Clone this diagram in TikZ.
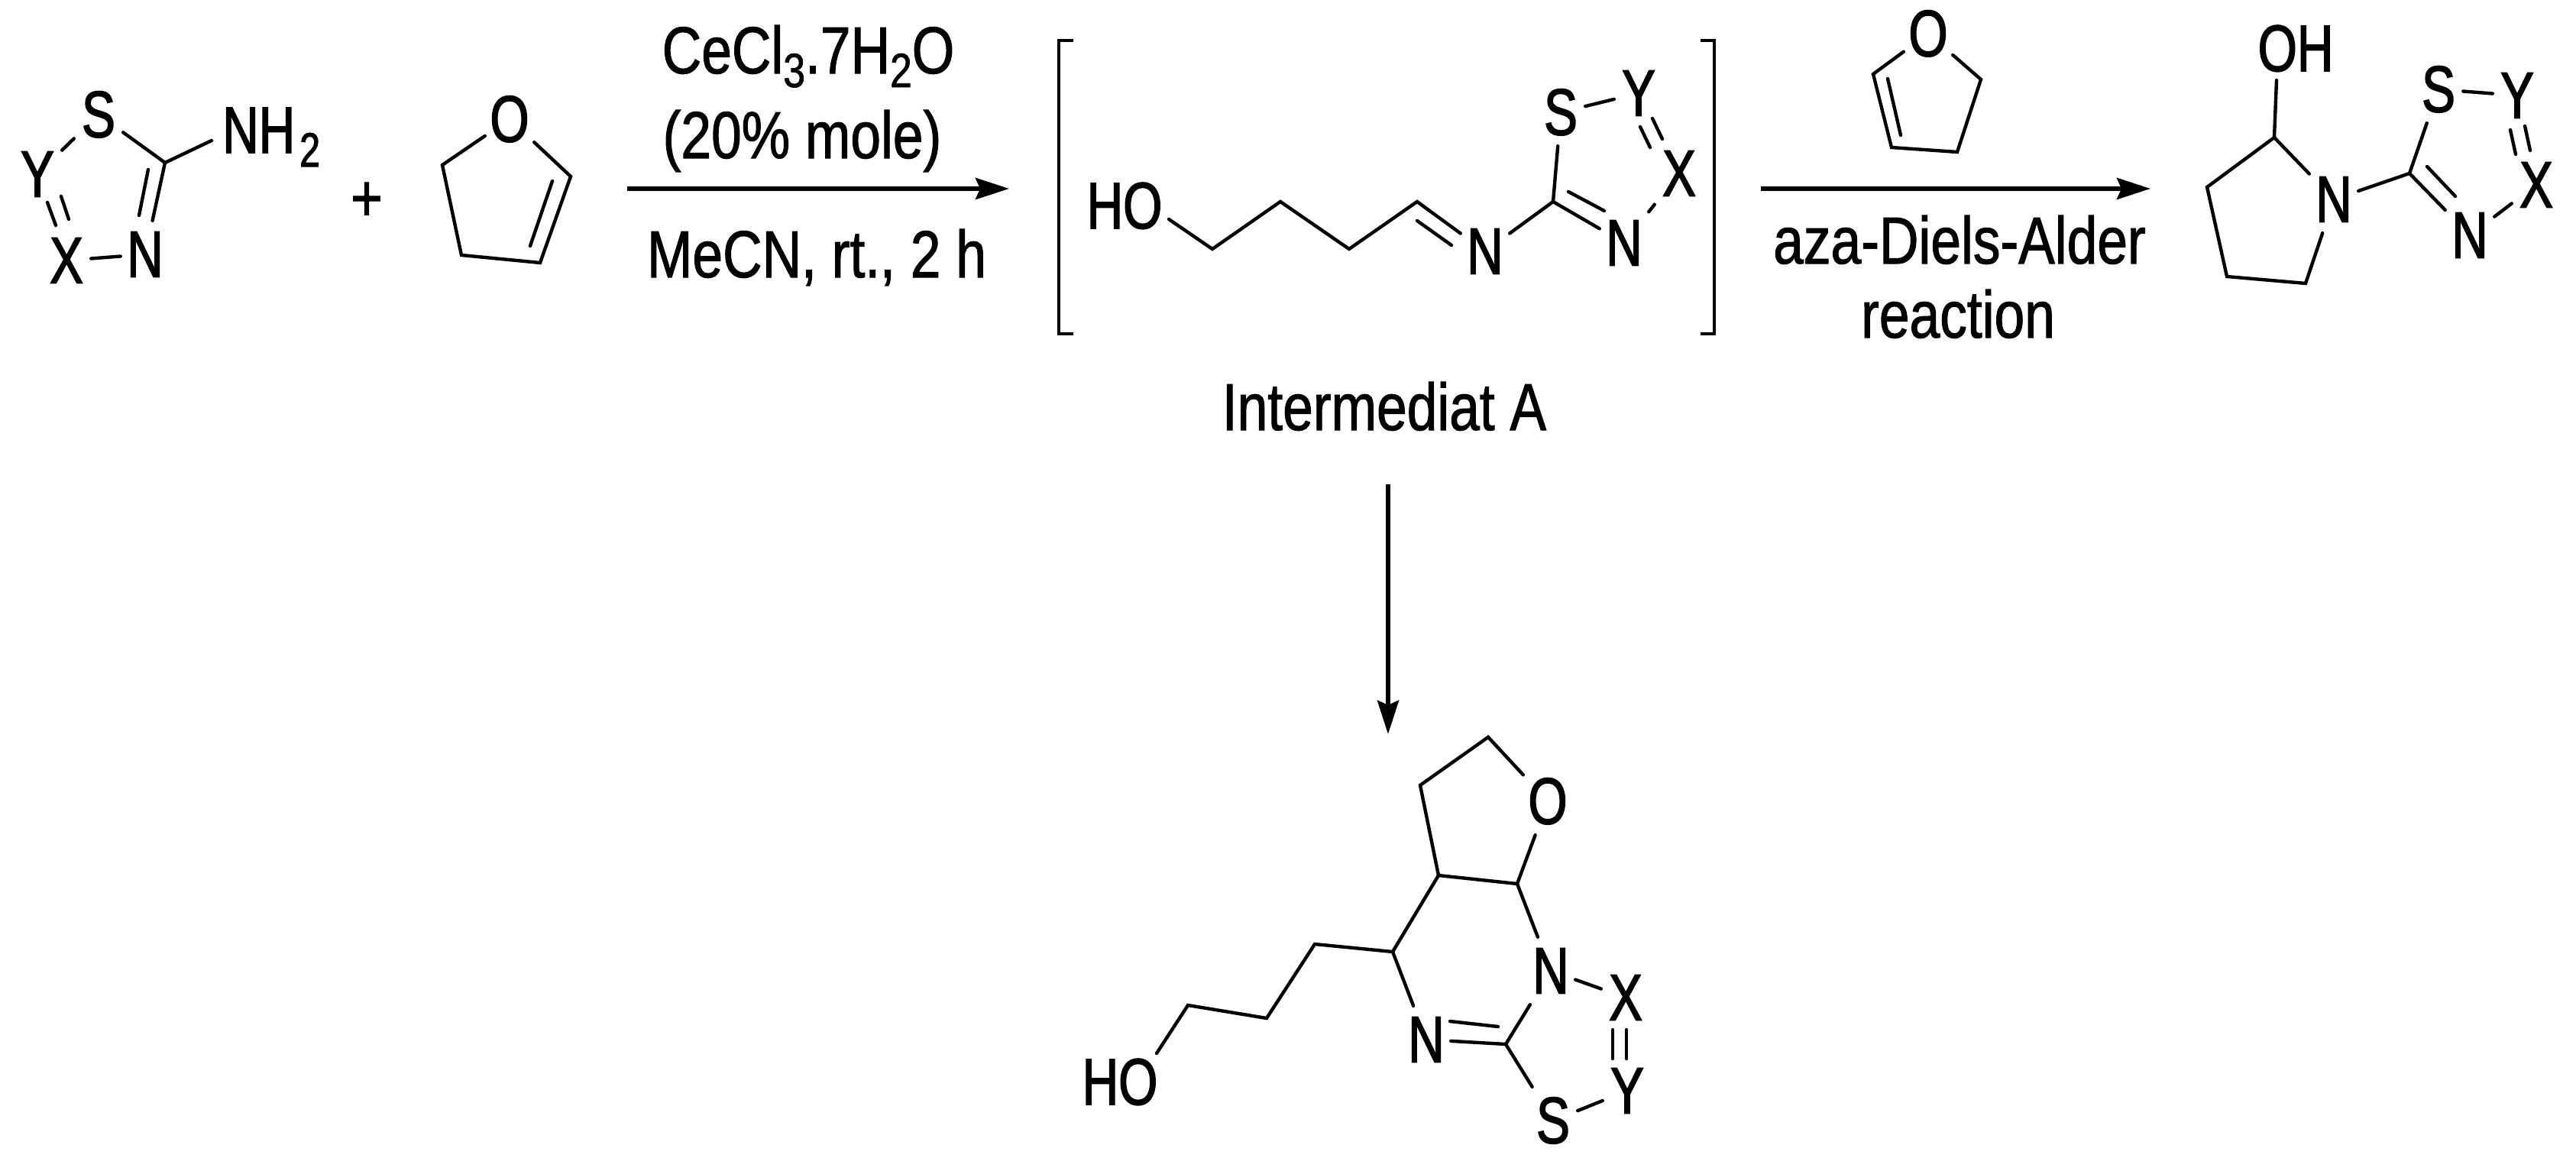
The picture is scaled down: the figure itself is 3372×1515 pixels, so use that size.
\documentclass[tikz,border=0pt]{standalone}
\usepackage{fontspec}
\setmainfont[FakeStretch=0.82,FakeBold=1.2]{Liberation Sans}
\newfontfamily\labfont[FakeStretch=0.765,FakeBold=1.8]{Liberation Sans}
\usetikzlibrary{arrows.meta}
\newcommand{\atm}[1]{\makebox[0pt]{\raisebox{-29.5pt}[0pt][0pt]{#1}}}
\newcommand{\lowidx}[1]{\raisebox{-18pt}{\fontsize{63}{63}\selectfont #1}}
\tikzset{
  bond/.style={line width=4.4pt,line cap=round,line join=miter,black},
  arrowline/.style={line width=5.5pt,black,-{Stealth[length=44pt,width=28pt,inset=6pt]}},
  atom/.style={rectangle,inner sep=0pt,minimum width=64pt,minimum height=88pt,font=\labfont\fontsize{86}{90}\selectfont},
  chemlabel/.style={inner sep=0pt,font=\labfont\fontsize{86}{90}\selectfont},
  caption/.style={inner sep=0pt,anchor=base,font=\fontsize{87}{90}\selectfont},
  bracket/.style={line width=4.4pt,black,line join=miter}
}
\begin{document}
\begin{tikzpicture}[x=1pt,y=-1pt]
\useasboundingbox (0,0) rectangle (3372,1515);
% --- reactant thiadiazole
\node[atom] (aS) at (129,150) {\atm{S}};
\node[atom] (aY) at (49,228) {\atm{Y}};
\node[atom] (aX) at (87,341) {\atm{X}};
\node[atom] (aN) at (190,333) {\atm{N}};
\node[chemlabel,anchor=base west] (aNH) at (291,200) {NH\kern6pt\lowidx{2}};
\path (216,213) coordinate (aC) (277,184) coordinate (aNHe)
 (194,222) coordinate (ai1) (182,282) coordinate (ai2)
 (62,265) coordinate (ad1) (73,295) coordinate (ad2) (80,257) coordinate (ad3) (90,287) coordinate (ad4);
\draw[bond] (aS) -- (aC);
\draw[bond] (aC) -- (aNHe);
\draw[bond] (aC) -- (aN);
\draw[bond] (ai1) -- (ai2);
\draw[bond] (aX) -- (aN);
\draw[bond] (aY) -- (aS);
\draw[bond] (ad1) -- (ad2);
\draw[bond] (ad3) -- (ad4);
\node[caption] (plus) at (480,289) {+};
% --- dihydrofuran 1
\node[atom] (bO) at (667,156) {\atm{O}};
\path (579,216) coordinate (b1) (604,334) coordinate (b2) (707,344) coordinate (b3) (747,231) coordinate (b4)
 (723,237) coordinate (bi1) (694,322) coordinate (bi2);
\draw[bond] (bO) -- (b1) -- (b2) -- (b3) -- (b4) -- (bO);
\draw[bond] (bi1) -- (bi2);
% --- arrow 1
\coordinate (r1s) at (821,247); \coordinate (r1e) at (1321,247);
\draw[arrowline] (r1s) -- (r1e);
\node[caption] (t1) at (1058,96) {CeCl\lowidx{3}.7H\lowidx{2}O};
\node[caption] (t2) at (1050,207) {(20\% mole)};
\node[caption] (t3) at (1069,363) {MeCN, rt., 2 h};
% --- brackets
\draw[bracket] (1405,53) -- (1386,53) -- (1386,437) -- (1405,437);
\draw[bracket] (2226,53) -- (2244,53) -- (2244,437) -- (2226,437);
% --- intermediate A
\node[chemlabel,anchor=base] (cHO) at (1472,299) {HO};
\node[atom] (cN) at (1944,329) {\atm{N}};
\node[atom] (cS) at (2043,147) {\atm{S}};
\node[atom] (cY) at (2145,122) {\atm{Y}};
\node[atom] (cX) at (2198,227) {\atm{X}};
\node[atom] (cNb) at (2126,318) {\atm{N}};
\path (1530,287) coordinate (c0) (1587,326) coordinate (c1) (1676,264) coordinate (c2) (1766,326) coordinate (c3) (1855,264) coordinate (c4)
 (1855,289) coordinate (ci1) (1900,321) coordinate (ci2)
 (2033,264) coordinate (c5) (2053,251) coordinate (ci3) (2100,276) coordinate (ci4)
 (2147,166) coordinate (cd1) (2160,193) coordinate (cd2) (2163,155) coordinate (cd3) (2176,182) coordinate (cd4);
\draw[bond] (c0) -- (c1) -- (c2) -- (c3) -- (c4) -- (cN);
\draw[bond] (ci1) -- (ci2);
\draw[bond] (cN) -- (c5);
\draw[bond] (c5) -- (cS);
\draw[bond] (cS) -- (cY);
\draw[bond] (cd1) -- (cd2);
\draw[bond] (cd3) -- (cd4);
\draw[bond] (cX) -- (cNb);
\draw[bond] (c5) -- (cNb);
\draw[bond] (ci3) -- (ci4);
\node[caption] (t4) at (1812,563) {Intermediat A};
% --- arrow 2 and its furan
\node[atom] (dO) at (2524,44) {\atm{O}};
\path (2452,97) coordinate (d1) (2476,193) coordinate (d2) (2562,199) coordinate (d3) (2593,104) coordinate (d4)
 (2471,103) coordinate (di1) (2488,177) coordinate (di2);
\draw[bond] (dO) -- (d1) -- (d2) -- (d3) -- (d4) -- (dO);
\draw[bond] (di1) -- (di2);
\coordinate (r2s) at (2305,247); \coordinate (r2e) at (2815,247);
\draw[arrowline] (r2s) -- (r2e);
\node[caption] (t5) at (2565,345) {aza-Diels-Alder};
\node[caption] (t6) at (2563,442) {reaction};
% --- product right
\node[chemlabel,anchor=base] (eOH) at (3005,93) {OH};
\node[atom] (eN) at (3055,261) {\atm{N}};
\node[atom] (eS) at (3192,117) {\atm{S}};
\node[atom] (eY) at (3295,125) {\atm{Y}};
\node[atom] (eX) at (3320,242) {\atm{X}};
\node[atom] (eNb) at (3233,308) {\atm{N}};
\path (2980,105) coordinate (eOe) (2977,180) coordinate (e1) (2889,245) coordinate (e2) (2915,362) coordinate (e3) (3018,371) coordinate (e4)
 (3154,227) coordinate (e5) (3177,218) coordinate (ei1) (3214,257) coordinate (ei2)
 (3286,170) coordinate (ed1) (3293,202) coordinate (ed2) (3305,165) coordinate (ed3) (3312,197) coordinate (ed4);
\draw[bond] (eOe) -- (e1);
\draw[bond] (eN) -- (e1) -- (e2) -- (e3) -- (e4) -- (eN);
\draw[bond] (eN) -- (e5);
\draw[bond] (e5) -- (eS);
\draw[bond] (eS) -- (eY);
\draw[bond] (ed1) -- (ed2);
\draw[bond] (ed3) -- (ed4);
\draw[bond] (eX) -- (eNb);
\draw[bond] (e5) -- (eNb);
\draw[bond] (ei1) -- (ei2);
% --- arrow 3
\coordinate (r3s) at (1817,634); \coordinate (r3e) at (1817,961);
\draw[arrowline] (r3s) -- (r3e);
% --- product bottom
\node[chemlabel,anchor=base] (fHO) at (1466,1446) {HO};
\node[atom] (fO) at (2026,1049) {\atm{O}};
\node[atom] (fN) at (2030,1271) {\atm{N}};
\node[atom] (fNb) at (1867,1361) {\atm{N}};
\node[atom] (fS) at (2033,1467) {\atm{S}};
\node[atom] (fY) at (2130,1428) {\atm{Y}};
\node[atom] (fX) at (2128,1306) {\atm{X}};
\path (1948,965) coordinate (f1) (1859,1028) coordinate (f2) (1883,1146) coordinate (f3) (1986,1157) coordinate (f4)
 (1823,1246) coordinate (f5) (1721,1236) coordinate (f6) (1658,1333) coordinate (f7) (1555,1316) coordinate (f8) (1514,1379) coordinate (f9)
 (1971,1367) coordinate (f10) (1898,1337) coordinate (fi1) (1961,1344) coordinate (fi2)
 (2111,1348) coordinate (fd1) (2111,1386) coordinate (fd2) (2129,1348) coordinate (fd3) (2129,1386) coordinate (fd4);
\draw[bond] (fO) -- (f1) -- (f2) -- (f3) -- (f4) -- (fO);
\draw[bond] (f4) -- (fN);
\draw[bond] (f3) -- (f5) -- (f6) -- (f7) -- (f8) -- (f9);
\draw[bond] (f5) -- (fNb);
\draw[bond] (fNb) -- (f10);
\draw[bond] (fi1) -- (fi2);
\draw[bond] (f10) -- (fN);
\draw[bond] (f10) -- (fS);
\draw[bond] (fS) -- (fY);
\draw[bond] (fd1) -- (fd2);
\draw[bond] (fd3) -- (fd4);
\draw[bond] (fN) -- (fX);
\end{tikzpicture}
\end{document}
